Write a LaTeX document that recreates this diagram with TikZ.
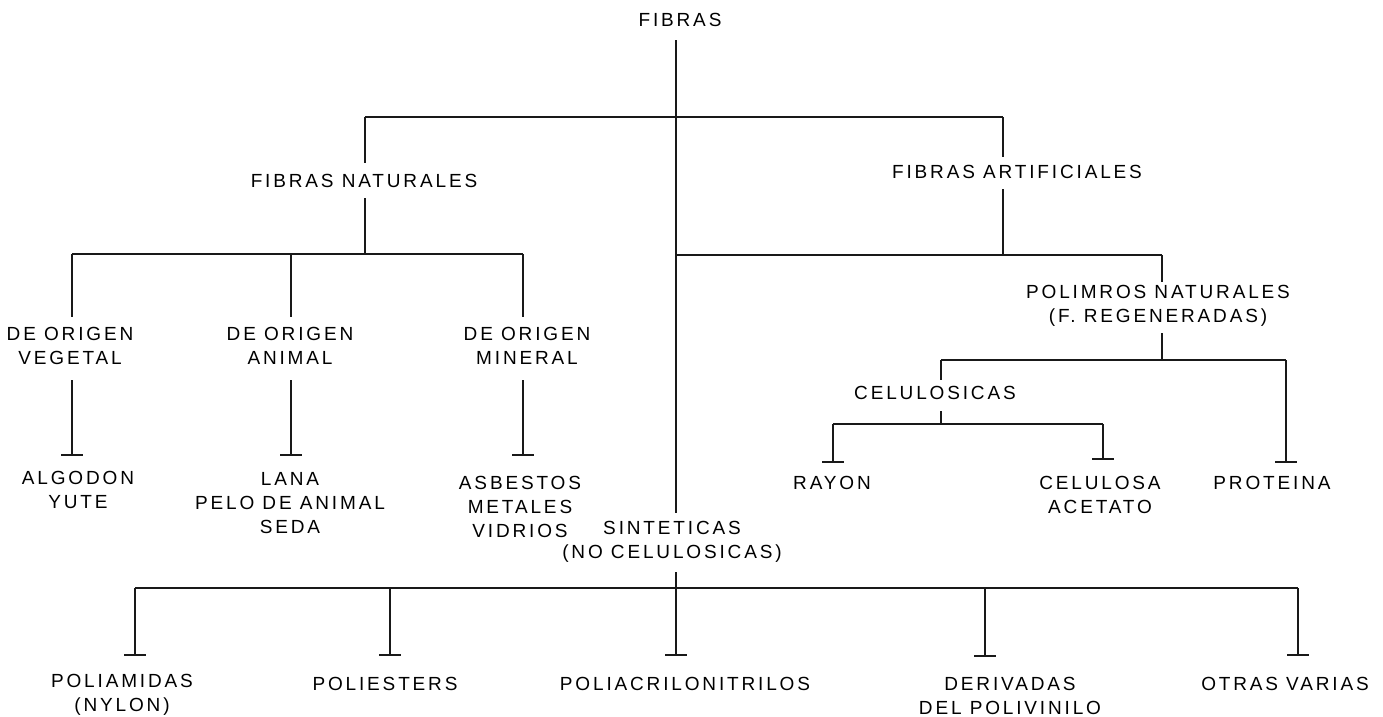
\documentclass[tikz,border=0pt]{standalone}
\usepackage{fontspec}
\setmainfont{Liberation Sans}[LetterSpace=15]
\begin{document}
\begin{tikzpicture}[x=1pt,y=-1pt,
  lbl/.style={font=\fontsize{19}{24}\selectfont, align=center, inner sep=0pt},
  ln/.style={line width=1.8pt, black!90},
  tend/.style={line width=1.8pt, black!90}]
\useasboundingbox (0,0) rectangle (1383,716);
% text nodes
\node[lbl] (fib) at (680,20) {FIBRAS};
\node[lbl] (nat) at (364,181) {FIBRAS NATURALES};
\node[lbl] (art) at (1017,172) {FIBRAS ARTIFICIALES};
\node[lbl] (veg) at (70,346) {DE ORIGEN\\VEGETAL};
\node[lbl] (ani) at (290,346) {DE ORIGEN\\ANIMAL};
\node[lbl] (min) at (527,346) {DE ORIGEN\\MINERAL};
\node[lbl] (alg) at (78,490) {ALGODON\\YUTE};
\node[lbl] (lana) at (290,503) {LANA\\PELO DE ANIMAL\\SEDA};
\node[lbl] (asb) at (520,507) {ASBESTOS\\METALES\\VIDRIOS};
\node[lbl] (pol) at (1158,306) {POLIMROS NATURALES\\(F. REGENERADAS)};
\node[lbl] (cel) at (935,393) {CELULOSICAS};
\node[lbl] (ray) at (832,483) {RAYON};
\node[lbl] (ca) at (1100,495) {CELULOSA\\ACETATO};
\node[lbl] (pro) at (1272,483) {PROTEINA};
\node[lbl] (sin) at (672,542) {SINTETICAS\\(NO CELULOSICAS)};
\node[lbl] (pa) at (122,695) {POLIAMIDAS\\(NYLON)};
\node[lbl] (pe) at (385,684) {POLIESTERS};
\node[lbl] (pac) at (685,684) {POLIACRILONITRILOS};
\node[lbl] (der) at (1010,696) {DERIVADAS\\DEL POLIVINILO};
\node[lbl] (ot) at (1285,684) {OTRAS VARIAS};
% junction coordinates
\coordinate (fibB) at (676,40);
\coordinate (sinT) at (676,513);
\coordinate (j1L) at (365,117);
\coordinate (j1R) at (1003,117);
\coordinate (natT) at (365,163);
\coordinate (natB) at (365,198);
\coordinate (artT) at (1003,157);
\coordinate (artB) at (1003,189);
\coordinate (j2L) at (72,254);
\coordinate (j2M) at (291,254);
\coordinate (j2R) at (523,254);
\coordinate (j2C) at (365,254);
\coordinate (j3L) at (676,255);
\coordinate (j3A) at (1003,255);
\coordinate (j3R) at (1162,255);
\coordinate (vegT) at (72,317);
\coordinate (aniT) at (291,317);
\coordinate (minT) at (523,317);
\coordinate (vegB) at (72,380);
\coordinate (aniB) at (291,380);
\coordinate (minB) at (523,380);
\coordinate (algT) at (72,455);
\coordinate (lanaT) at (291,455);
\coordinate (asbT) at (523,455);
\coordinate (polT) at (1162,282);
\coordinate (polB) at (1162,333);
\coordinate (j4M) at (1162,360);
\coordinate (j4L) at (941,360);
\coordinate (j4R) at (1286,360);
\coordinate (celT) at (941,380);
\coordinate (celB) at (941,411);
\coordinate (j5M) at (941,424);
\coordinate (j5L) at (833,424);
\coordinate (j5R) at (1103,424);
\coordinate (rayT) at (833,462);
\coordinate (caT) at (1103,459);
\coordinate (proT) at (1286,462);
\coordinate (sinB) at (676,572);
\coordinate (j6L) at (135,588);
\coordinate (j6R) at (1298,588);
\coordinate (j6a) at (390,588);
\coordinate (j6c) at (985,588);
\coordinate (paT) at (135,655);
\coordinate (peT) at (390,655);
\coordinate (pacT) at (676,655);
\coordinate (derT) at (985,656);
\coordinate (otT) at (1298,655);
% connectors
\draw[ln] (fibB) -- (sinT);
\draw[ln] (j1L) -- (j1R);
\draw[ln] (j1L) -- (natT);
\draw[ln] (natB) -- (j2C);
\draw[ln] (j1R) -- (artT);
\draw[ln] (artB) -- (j3A);
\draw[ln] (j2L) -- (j2R);
\draw[ln] (j2L) -- (vegT);
\draw[ln] (j2M) -- (aniT);
\draw[ln] (j2R) -- (minT);
\draw[ln] (j3L) -- (j3R);
\draw[ln] (j3R) -- (polT);
\draw[ln] (polB) -- (j4M);
\draw[ln] (j4L) -- (j4R);
\draw[ln] (j4L) -- (celT);
\draw[ln] (celB) -- (j5M);
\draw[ln] (j5L) -- (j5R);
\draw[ln] (j6L) -- (j6R);
% T-ended connectors
\foreach \a/\b in {vegB/algT, aniB/lanaT, minB/asbT, j5L/rayT, j5R/caT, j4R/proT, j6L/paT, j6a/peT, j6c/derT, j6R/otT, sinB/pacT}{
  \draw[ln] (\a) -- (\b);
  \draw[tend] ([xshift=-11pt]\b) -- ([xshift=11pt]\b);
}
\end{tikzpicture}
\end{document}
